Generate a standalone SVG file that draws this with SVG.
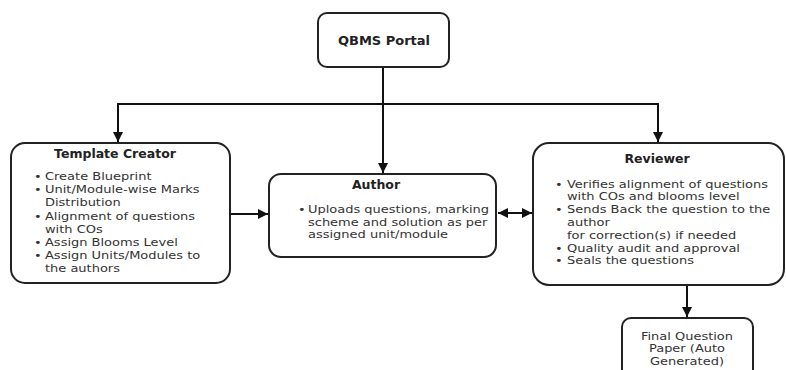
<svg xmlns="http://www.w3.org/2000/svg" width="786" height="370" viewBox="0 0 786 370">
<style>
.box{fill:#fff;stroke:#222;stroke-width:2}
.t{font-family:"DejaVu Sans",Verdana,sans-serif;font-size:13px;fill:#333}
.b{font-family:"DejaVu Sans",Verdana,sans-serif;font-size:12.5px;font-weight:bold;fill:#222}
.c{stroke:#111;stroke-width:2;fill:none}
</style>
<defs>
<marker id="a" viewBox="0 0 10 10" refX="10" refY="5" markerWidth="10" markerHeight="10" markerUnits="userSpaceOnUse" orient="auto-start-reverse">
<path d="M0,0 L10,5 L0,10 Z" fill="#111"/>
</marker>
</defs>
<g id="connectors">
<line class="c" x1="383" y1="67" x2="383" y2="173" marker-end="url(#a)"/>
<polyline class="c" points="118,142 118,104 658,104 658,142" marker-start="url(#a)" marker-end="url(#a)"/>
<line class="c" x1="230" y1="214" x2="268" y2="214" marker-end="url(#a)"/>
<line class="c" x1="498" y1="213" x2="532" y2="213" marker-start="url(#a)" marker-end="url(#a)"/>
<line class="c" x1="687" y1="286" x2="687" y2="317" marker-end="url(#a)"/>
</g>
<g id="qbms">
<rect class="box" x="318" y="13" width="131" height="54" rx="9"/>
<text class="b" x="384" y="45" text-anchor="middle" style="font-size:13px">QBMS Portal</text>
</g>
<g id="template-creator">
<rect class="box" x="11" y="143" width="219" height="140" rx="14"/>
<text class="b" x="115" y="158" text-anchor="middle">Template Creator</text>
<g transform="translate(0,180) scale(1,0.85)">
<text class="t" x="34" y="0">•</text><text class="t" x="45" y="0">Create Blueprint</text>
<text class="t" x="34" y="15.3">•</text><text class="t" x="45" y="15.3">Unit/Module-wise Marks</text>
<text class="t" x="45" y="30.6">Distribution</text>
<text class="t" x="34" y="47">•</text><text class="t" x="45" y="47">Alignment of questions</text>
<text class="t" x="45" y="62.4">with COs</text>
<text class="t" x="34" y="77.6">•</text><text class="t" x="45" y="77.6">Assign Blooms Level</text>
<text class="t" x="34" y="92.9">•</text><text class="t" x="45" y="92.9">Assign Units/Modules to</text>
<text class="t" x="45" y="108.2">the authors</text>
</g>
</g>
<g id="author">
<rect class="box" x="269" y="174" width="227" height="83" rx="12"/>
<text class="b" x="376" y="189" text-anchor="middle">Author</text>
<g transform="translate(0,213) scale(1,0.85)">
<text class="t" x="298" y="0">•</text><text class="t" x="308" y="0">Uploads questions, marking</text>
<text class="t" x="308" y="15.3">scheme and solution as per</text>
<text class="t" x="308" y="29.8">assigned unit/module</text>
</g>
</g>
<g id="reviewer">
<rect class="box" x="533" y="143" width="251" height="142" rx="16"/>
<text class="b" x="657" y="163" text-anchor="middle">Reviewer</text>
<g transform="translate(0,188) scale(1,0.85)">
<text class="t" x="555" y="0">•</text><text class="t" x="567" y="0">Verifies alignment of questions</text>
<text class="t" x="567" y="14.4">with COs and blooms level</text>
<text class="t" x="555" y="29.4">•</text><text class="t" x="567" y="29.4">Sends Back the question to the</text>
<text class="t" x="567" y="44.7">author</text>
<text class="t" x="567" y="60">for correction(s) if needed</text>
<text class="t" x="555" y="75.3">•</text><text class="t" x="567" y="75.3">Quality audit and approval</text>
<text class="t" x="555" y="89.8">•</text><text class="t" x="567" y="89.8">Seals the questions</text>
</g>
</g>
<g id="final">
<rect class="box" x="622" y="318" width="131" height="62" rx="9"/>
<g transform="translate(0,340) scale(1,0.85)">
<text class="t" x="687" y="0" text-anchor="middle">Final Question</text>
<text class="t" x="687" y="14.4" text-anchor="middle">Paper (Auto</text>
<text class="t" x="687" y="29.4" text-anchor="middle">Generated)</text>
</g>
</g>
</svg>
